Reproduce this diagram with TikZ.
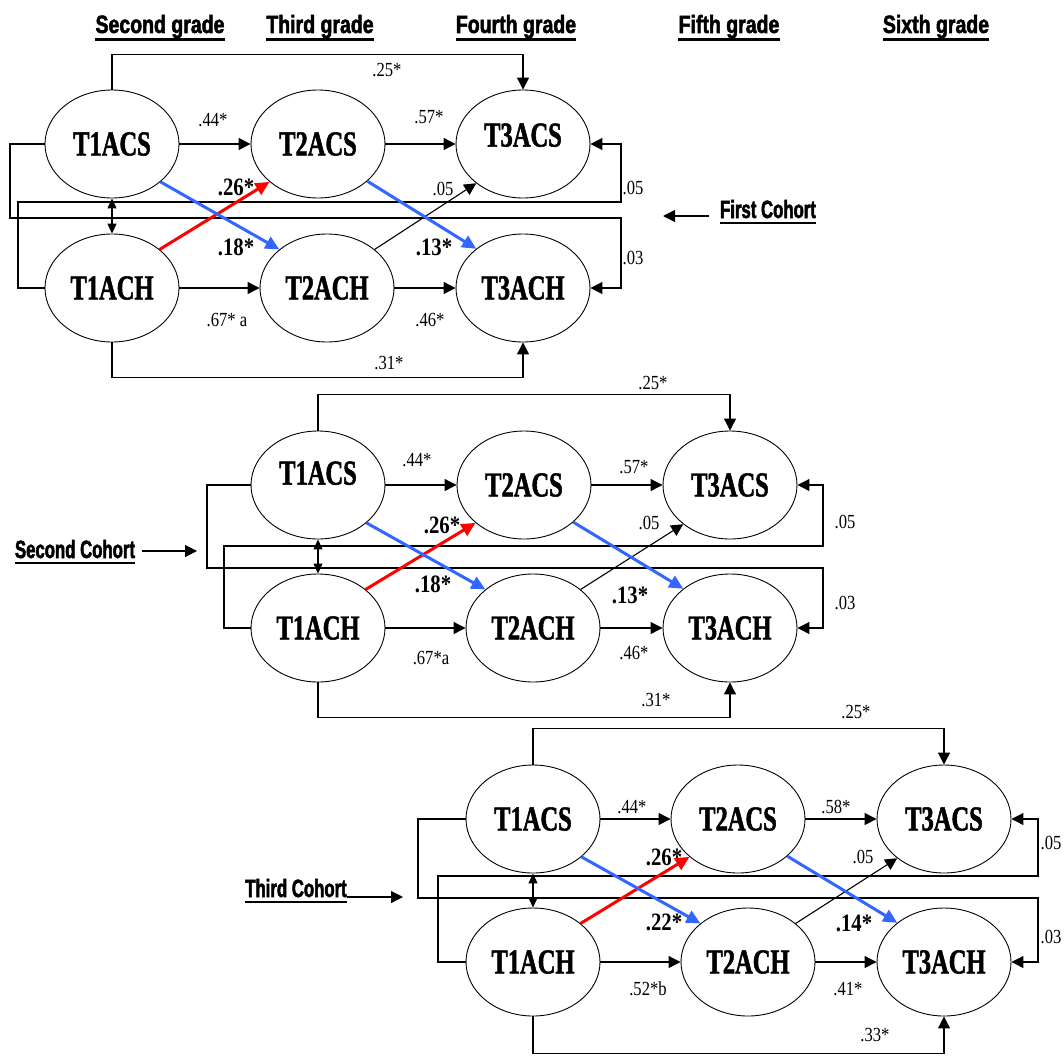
\documentclass[tikz,border=0pt]{standalone}
\usepackage{fontspec}
\setmainfont{Liberation Serif}
\newfontfamily\labf[FakeStretch=0.83]{Liberation Serif}
\newfontfamily\nodef[FakeStretch=0.7,FakeBold=1.4]{Liberation Serif}
\newfontfamily\hdrf[FakeStretch=0.78,FakeBold=2]{Liberation Sans}
\newfontfamily\cohf[FakeStretch=0.67,FakeBold=2]{Liberation Sans}
\usetikzlibrary{shapes.geometric,arrows.meta}
\definecolor{blueA}{RGB}{51,102,255}
\definecolor{redA}{RGB}{255,0,0}
\tikzset{
 var/.style={ellipse, draw, line width=0.9pt, minimum width=134pt, minimum height=108pt, inner sep=0pt, font=\nodef\bfseries\fontsize{35}{40}\selectfont},
 arr/.style={line width=1.1pt, -{Triangle[length=12pt,width=12pt]}},
 dbl/.style={line width=1.1pt, {Triangle[length=10pt,width=9pt]}-{Triangle[length=10pt,width=9pt]}},
 bluearr/.style={draw=blueA, line width=3pt, -{Triangle[length=14pt,width=13pt]}},
 redarr/.style={draw=redA, line width=3pt, -{Triangle[length=14pt,width=13pt]}},
 lbl/.style={font=\labf\fontsize{20}{22}\selectfont, inner sep=0pt},
 blbl/.style={font=\labf\bfseries\fontsize{25}{28}\selectfont, inner sep=0pt},
 hdrs/.style={font=\hdrf\bfseries\fontsize{25}{27}\selectfont, inner sep=0pt, anchor=base},
 cohs/.style={font=\cohf\bfseries\fontsize{25}{27}\selectfont, inner sep=0pt, anchor=base},
 uline/.style={line width=2.2pt},
}
\begin{document}
\begin{tikzpicture}[x=1pt,y=-1pt]
\useasboundingbox[fill=white] (0,0) rectangle (1064,1057);

% headers
\node[hdrs] (g2) at (160,33) {Second grade};
\node[hdrs] (g3) at (320,33) {Third grade};
\node[hdrs] (g4) at (516,33) {Fourth grade};
\node[hdrs] (g5) at (729,33) {Fifth grade};
\node[hdrs] (g6) at (936,33) {Sixth grade};
\foreach \g in {g2,g3,g4,g5,g6}{
 \draw[uline] ([yshift=-6.5pt]\g.base west) -- ([yshift=-6.5pt]\g.base east);
}

%================ First cohort
\node[var] (a1) at (112,144) {T1ACS};
\node[var] (a2) at (318,144) {T2ACS};
\node[var] (a3) at (523,144) {\raisebox{18pt}{T3ACS}};
\node[var] (b1) at (112,288) {T1ACH};
\node[var] (b2) at (327,288) {T2ACH};
\node[var] (b3) at (523,288) {T3ACH};

\draw[arr] (a1.east) -- (a2.west);
\draw[arr] (a2.east) -- (a3.west);
\draw[arr] (b1.east) -- (b2.west);
\draw[arr] (b2.east) -- (b3.west);
\draw[arr] (a1.north) -- ++(0,-35) -| (a3.north);
\draw[arr] (b1.south) -- ++(0,35) -| (b3.south);
\draw[dbl] (a1.south) -- (b1.north);
\draw[arr] (b1.west) -| (18,202) -| (621,144) -- (a3.east);
\draw[arr] (a1.west) -| (10,218) -| (621,288) -- (b3.east);
\draw[arr] (b2.39) -- (a3.220);
\draw[redarr] (b1.39) -- (a2.-142);
\draw[bluearr] (a1.-38) -- (b2.141);
\draw[bluearr] (a2.-37) -- (b3.140);

\node[lbl] (la1) at (213,120) {.44*};
\node[lbl] (la2) at (429,117) {.57*};
\node[lbl] (la3) at (387,70) {.25*};
\node[lbl] (la4) at (389,363) {.31*};
\node[lbl] (la5) at (227,320) {.67* a};
\node[lbl] (la6) at (430,320) {.46*};
\node[lbl] (la7) at (443,189) {.05};
\node[lbl] (la8) at (633,188) {.05};
\node[lbl] (la9) at (633,258) {.03};
\node[blbl] (lb1) at (236,187) {.26*};
\node[blbl] (lb2) at (236,247) {.18*};
\node[blbl] (lb3) at (434,247) {.13*};

\node[cohs] (c1) at (768,218) {First Cohort};
\draw[uline] ([yshift=-5pt]c1.base west) -- ([yshift=-5pt]c1.base east);
\coordinate (c1s) at (709,216);
\coordinate (c1e) at (663,216);
\draw[arr] (c1s) -- (c1e);

%================ Second cohort
\node[var] (d1) at (318,485) {\raisebox{24pt}{T1ACS}};
\node[var] (d2) at (524,485) {T2ACS};
\node[var] (d3) at (730,485) {T3ACS};
\node[var] (e1) at (318,628) {T1ACH};
\node[var] (e2) at (533,628) {T2ACH};
\node[var] (e3) at (730,628) {T3ACH};

\draw[arr] (d1.east) -- (d2.west);
\draw[arr] (d2.east) -- (d3.west);
\draw[arr] (e1.east) -- (e2.west);
\draw[arr] (e2.east) -- (e3.west);
\draw[arr] (d1.north) -- ++(0,-36) -| (d3.north);
\draw[arr] (e1.south) -- ++(0,35) -| (e3.south);
\draw[dbl] (d1.south) -- (e1.north);
\draw[arr] (e1.west) -| (224,546) -| (823,485) -- (d3.east);
\draw[arr] (d1.west) -| (207,568) -| (823,628) -- (e3.east);
\draw[arr] (e2.39) -- (d3.220);
\draw[redarr] (e1.39) -- (d2.-142);
\draw[bluearr] (d1.-38) -- (e2.141);
\draw[bluearr] (d2.-37) -- (e3.140);

\node[lbl] (ld1) at (417,460) {.44*};
\node[lbl] (ld2) at (634,467) {.57*};
\node[lbl] (ld3) at (653,383) {.25*};
\node[lbl] (ld4) at (656,700) {.31*};
\node[lbl] (ld5) at (431,658) {.67*a};
\node[lbl] (ld6) at (634,653) {.46*};
\node[lbl] (ld7) at (649,523) {.05};
\node[lbl] (ld8) at (845,522) {.05};
\node[lbl] (ld9) at (845,603) {.03};
\node[blbl] (le1) at (442,525) {.26*};
\node[blbl] (le2) at (433,584) {.18*};
\node[blbl] (le3) at (630,595) {.13*};

\node[cohs] (c2) at (75,558) {Second Cohort};
\draw[uline] ([yshift=-5pt]c2.base west) -- ([yshift=-5pt]c2.base east);
\coordinate (c2s) at (142,551);
\coordinate (c2e) at (197,551);
\draw[arr] (c2s) -- (c2e);

%================ Third cohort
\node[var] (f1) at (533,819) {T1ACS};
\node[var] (f2) at (738,819) {T2ACS};
\node[var] (f3) at (944,819) {T3ACS};
\node[var] (h1) at (533,962) {T1ACH};
\node[var] (h2) at (748,962) {T2ACH};
\node[var] (h3) at (944,962) {T3ACH};

\draw[arr] (f1.east) -- (f2.west);
\draw[arr] (f2.east) -- (f3.west);
\draw[arr] (h1.east) -- (h2.west);
\draw[arr] (h2.east) -- (h3.west);
\draw[arr] (f1.north) -- ++(0,-36) -| (f3.north);
\draw[arr] (h1.south) -- ++(0,37) -| (h3.south);
\draw[dbl] (f1.south) -- (h1.north);
\draw[arr] (h1.west) -| (438,876) -| (1038,819) -- (f3.east);
\draw[arr] (f1.west) -| (418,898) -| (1038,962) -- (h3.east);
\draw[arr] (h2.39) -- (f3.220);
\draw[redarr] (h1.39) -- (f2.-142);
\draw[bluearr] (f1.-38) -- (h2.141);
\draw[bluearr] (f2.-37) -- (h3.140);

\node[lbl] (lf1) at (632,807) {.44*};
\node[lbl] (lf2) at (836,807) {.58*};
\node[lbl] (lf3) at (856,712) {.25*};
\node[lbl] (lf4) at (875,1035) {.33*};
\node[lbl] (lf5) at (648,989) {.52*b};
\node[lbl] (lf6) at (848,989) {.41*};
\node[lbl] (lf7) at (863,857) {.05};
\node[lbl] (lf8) at (1051,843) {.05};
\node[lbl] (lf9) at (1051,937) {.03};
\node[blbl] (lh1) at (664,857) {.26*};
\node[blbl] (lh2) at (664,922) {.22*};
\node[blbl] (lh3) at (854,923) {.14*};

\node[cohs] (c3) at (296,897) {Third Cohort};
\draw[uline] ([yshift=-5pt]c3.base west) -- ([yshift=-5pt]c3.base east);
\coordinate (c3s) at (347,897);
\coordinate (c3e) at (403,897);
\draw[arr] (c3s) -- (c3e);
\end{tikzpicture}
\end{document}
